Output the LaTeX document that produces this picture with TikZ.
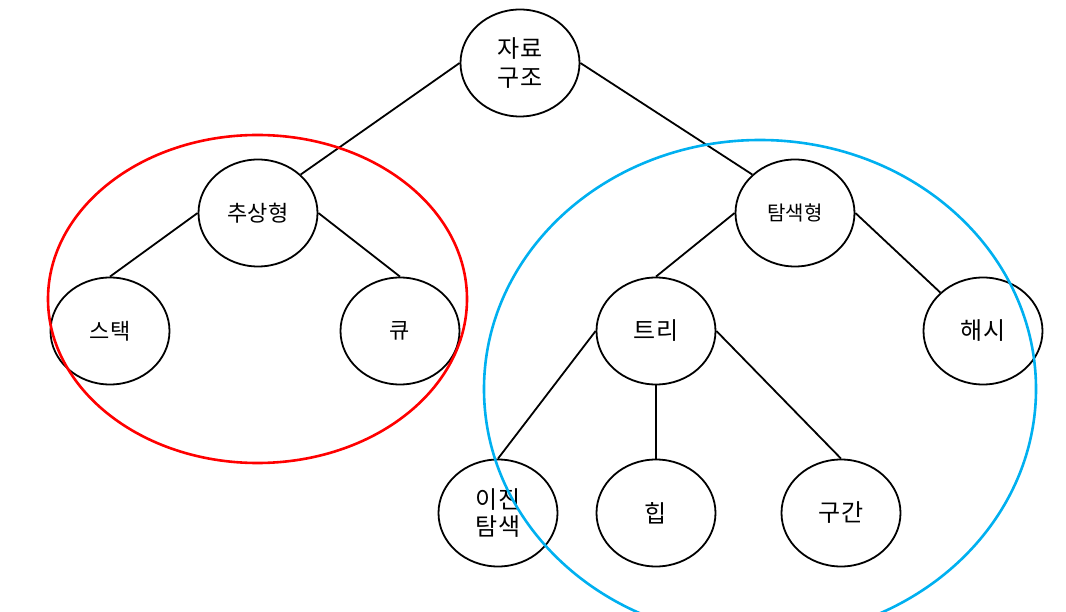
\documentclass[tikz,border=0pt]{standalone}
\usepackage{fontspec}
\setmainfont{Noto Sans CJK KR}
\usepackage{tikz}
\usetikzlibrary{shapes.geometric}
\definecolor{groupred}{HTML}{FF0000}
\definecolor{groupblue}{HTML}{00B0F0}
\tikzset{
  topic/.style={ellipse, draw, line width=1.8pt, minimum width=119pt,
    minimum height=107pt, inner sep=0pt, align=center,
    font=\fontsize{24}{29}\selectfont},
  group/.style={line width=2.6pt}
}
\begin{document}
\begin{tikzpicture}[x=1pt, y=-1pt]
    \useasboundingbox (0,0) rectangle (1066,612);
    % root
    \node[topic] (ds) at (520,63) {자료\\구조};
    % abstract types
    \node[topic, font=\fontsize{22}{26}\selectfont] (abs) at (258,213) {추상형};
    \node[topic, font=\fontsize{22}{26}\selectfont] (stack) at (110,331) {스택};
    \node[topic, font=\fontsize{22}{26}\selectfont] (queue) at (400,331) {큐};
    % search types
    \node[topic, font=\fontsize{20}{24}\selectfont] (srch) at (795,213) {탐색형};
    \node[topic] (tree) at (656,331) {트리};
    \node[topic] (hash) at (983,331) {해시};
    \node[topic, font=\fontsize{24}{27}\selectfont] (bst) at (498,513) {이진\\탐색};
    \node[topic] (heap) at (656,513) {힙};
    \node[topic] (intv) at (841,513) {구간};
    % links
    \draw[line width=1.8pt] (ds.west) -- (abs.north east);
    \draw[line width=1.8pt] (ds.east) -- (srch.north west);
    \draw[line width=1.8pt] (abs.west) -- (stack.north);
    \draw[line width=1.8pt] (abs.east) -- (queue.north);
    \draw[line width=1.8pt] (srch.west) -- (tree.north);
    \draw[line width=1.8pt] (srch.east) -- (hash.north west);
    \draw[line width=1.8pt] (tree.west) -- (bst.north);
    \draw[line width=1.8pt] (tree.south) -- (heap.north);
    \draw[line width=1.8pt] (tree.east) -- (intv.north);
    % groups
    \draw[group, groupred] (257.5,299) ellipse [x radius=209.5, y radius=164];
    \draw[group, groupblue] (760,389) ellipse [x radius=276, y radius=249];
\end{tikzpicture}
\end{document}
